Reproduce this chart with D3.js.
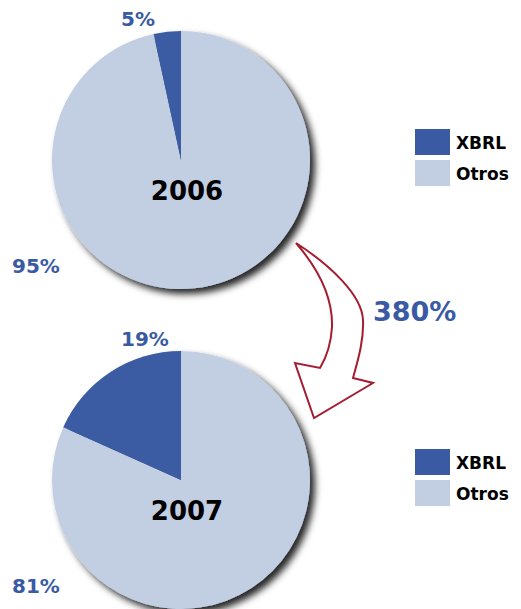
<!DOCTYPE html>
<html>
<head>
<meta charset="utf-8">
<script src="https://cdn.jsdelivr.net/npm/d3@7"></script>
<style>
  body { margin: 0; background: #fff; }
  svg { display: block; font-family: "DejaVu Sans", sans-serif; font-weight: 700; }
</style>
</head>
<body>
<div id="chart-container"></div>
<script>
// data
const years = ["2006", "2007"];
const categories = ["XBRL", "Otros"];
const xbrlShare = [3.4, 18.3];      // wedge size as drawn
const otrosShare = [96.6, 81.7];
const xbrlLabels = ["5%", "19%"];
const otrosLabels = ["95%", "81%"];
const growthLabel = "380%";

const width = 521;
const height = 609;
const radius = 129;
const cx = 181;
const cy = [160, 480];

const color = d3.scaleOrdinal()
    .domain(categories)
    .range(["#3a5ba3", "#c2cfe2"]);

const svg = d3.select("#chart-container").append("svg")
    .attr("width", width)
    .attr("height", height)
    .attr("viewBox", [0, 0, width, height]);

const defs = svg.append("defs");
const shadow = defs.append("filter")
    .attr("id", "shadow")
    .attr("x", "-20%").attr("y", "-20%")
    .attr("width", "140%").attr("height", "140%");
shadow.append("feDropShadow")
    .attr("dx", 5)
    .attr("dy", 5)
    .attr("stdDeviation", 3.5)
    .attr("flood-color", "#000")
    .attr("flood-opacity", 0.85);

// Otros first, so XBRL ends at 12 o'clock on the left side
const pie = d3.pie().sort(null).value(d => d.value);
const arc = d3.arc().innerRadius(0).outerRadius(radius);

years.forEach((year, i) => {
  const slices = pie([
    { key: "Otros", value: otrosShare[i] },
    { key: "XBRL", value: xbrlShare[i] }
  ]);

  const g = svg.append("g")
      .attr("transform", `translate(${cx},${cy[i]})`);

  g.append("g")
      .attr("filter", "url(#shadow)")
    .selectAll("path")
    .data(slices)
    .join("path")
      .attr("d", arc)
      .attr("fill", d => color(d.data.key));

  g.append("text")
      .attr("x", 6)
      .attr("y", 40)
      .attr("text-anchor", "middle")
      .attr("font-size", 26)
      .attr("fill", "#000")
      .text(year);

  // percentage labels
  svg.append("text")
      .attr("x", i === 0 ? 121 : 121)
      .attr("y", cy[i] - 134)
      .attr("font-size", 20)
      .attr("fill", "#3a5ba3")
      .text(xbrlLabels[i]);

  svg.append("text")
      .attr("x", 12)
      .attr("y", cy[i] + 113)
      .attr("font-size", 20)
      .attr("fill", "#3a5ba3")
      .text(otrosLabels[i]);

  // legend
  const legend = svg.append("g")
      .attr("transform", `translate(415,${cy[i] - 31})`);
  categories.forEach((c, j) => {
    legend.append("rect")
        .attr("x", 0)
        .attr("y", j * 31)
        .attr("width", 35)
        .attr("height", 26)
        .attr("fill", color(c));
    legend.append("text")
        .attr("x", 41)
        .attr("y", j * 31 + 20)
        .attr("font-size", 17)
        .attr("fill", "#000")
        .text(c);
  });
});

// curved arrow between the pies
svg.append("path")
    .attr("d", "M296,243 C315,265 333,295 332,327 C331,345 326,358 320,368 L295,363 L314,418 L373,383 L353,378 C358,360 364,340 363,320 C362,295 330,265 296,243 Z")
    .attr("fill", "#fff")
    .attr("stroke", "#a51c30")
    .attr("stroke-width", 2)
    .attr("stroke-linejoin", "miter");

svg.append("text")
    .attr("x", 373)
    .attr("y", 321)
    .attr("font-size", 27)
    .attr("fill", "#3a5ba3")
    .text(growthLabel);
</script>
</body>
</html>
